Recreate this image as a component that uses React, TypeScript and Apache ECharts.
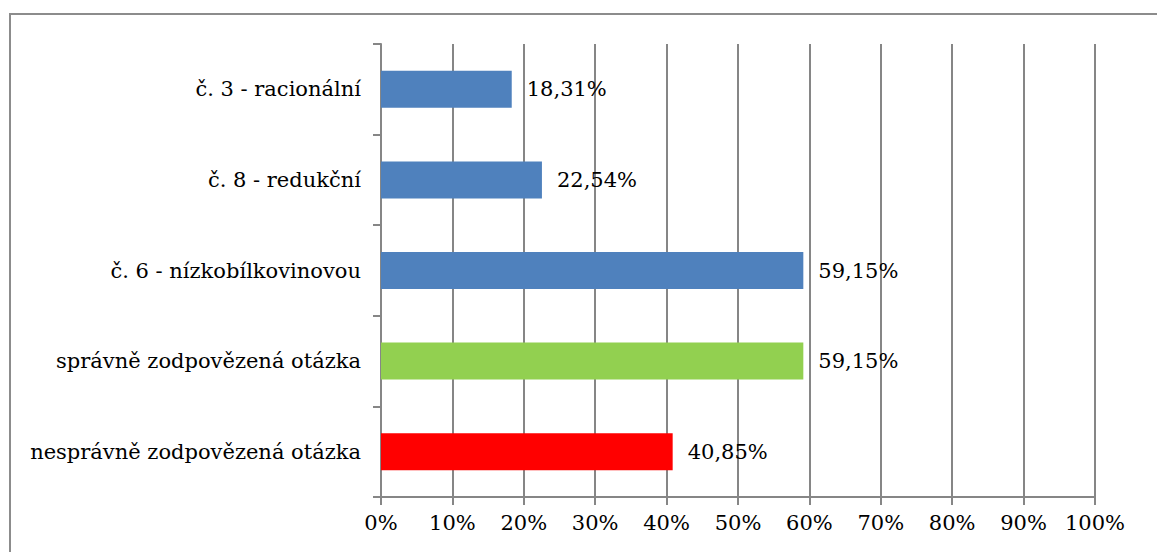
import React, { useEffect, useRef } from "react";
import * as echarts from "echarts";

const categories = [
  "nesprávně zodpovězená otázka",
  "správně zodpovězená otázka",
  "č. 6 - nízkobílkovinovou",
  "č. 8 - redukční",
  "č. 3 - racionální",
];
const values = [40.85, 59.15, 59.15, 22.54, 18.31];
const barColors = ["#FF0000", "#92D050", "#4F81BD", "#4F81BD", "#4F81BD"];
const xTicks = [0, 10, 20, 30, 40, 50, 60, 70, 80, 90, 100];

export default function App() {
  const ref = useRef<HTMLDivElement>(null);
  useEffect(() => {
    document.body.style.margin = "0";
    const chart = echarts.init(ref.current!, null, { renderer: "svg" });
    const font = "DejaVu Serif";
    const txt = { color: "#000", fontFamily: font, fontSize: 21 };
    chart.setOption({
      animation: false,
      backgroundColor: "#fff",
      textStyle: txt,
      grid: { left: 381, right: 62, top: 44, bottom: 55, containLabel: false },
      graphic: [
        {
          type: "rect",
          shape: { x: 10, y: 14, width: 1200, height: 600 },
          style: { fill: "none", stroke: "#8c8c8c", lineWidth: 2 },
          silent: true,
        },
      ],
      xAxis: {
        type: "value",
        min: 0,
        max: 100,
        interval: 10,
        axisLine: { show: true, lineStyle: { color: "#868686", width: 2 } },
        axisTick: { show: true, length: 8, lineStyle: { color: "#868686", width: 2 } },
        splitLine: { show: true, lineStyle: { color: "#868686", width: 2 } },
        axisLabel: {
          ...txt,
          formatter: (v: number) => (xTicks.includes(v) ? v + "%" : ""),
          margin: 15,
        },
      },
      yAxis: {
        type: "category",
        data: categories,
        axisLine: { show: true, lineStyle: { color: "#868686", width: 2 } },
        axisTick: { show: true, length: 8, lineStyle: { color: "#868686", width: 2 } },
        axisLabel: { ...txt, margin: 20 },
      },
      series: [
        {
          type: "bar",
          data: values.map((v, i) => ({ value: v, itemStyle: { color: barColors[i] } })),
          barWidth: 37,
          label: {
            ...txt,
            show: true,
            position: "right",
            distance: 15,
            formatter: (p: any) => p.value.toFixed(2).replace(".", ",") + "%",
          },
        },
      ],
    });
    return () => chart.dispose();
  }, []);
  return <div ref={ref} style={{ width: 1157, height: 552 }} />;
}
